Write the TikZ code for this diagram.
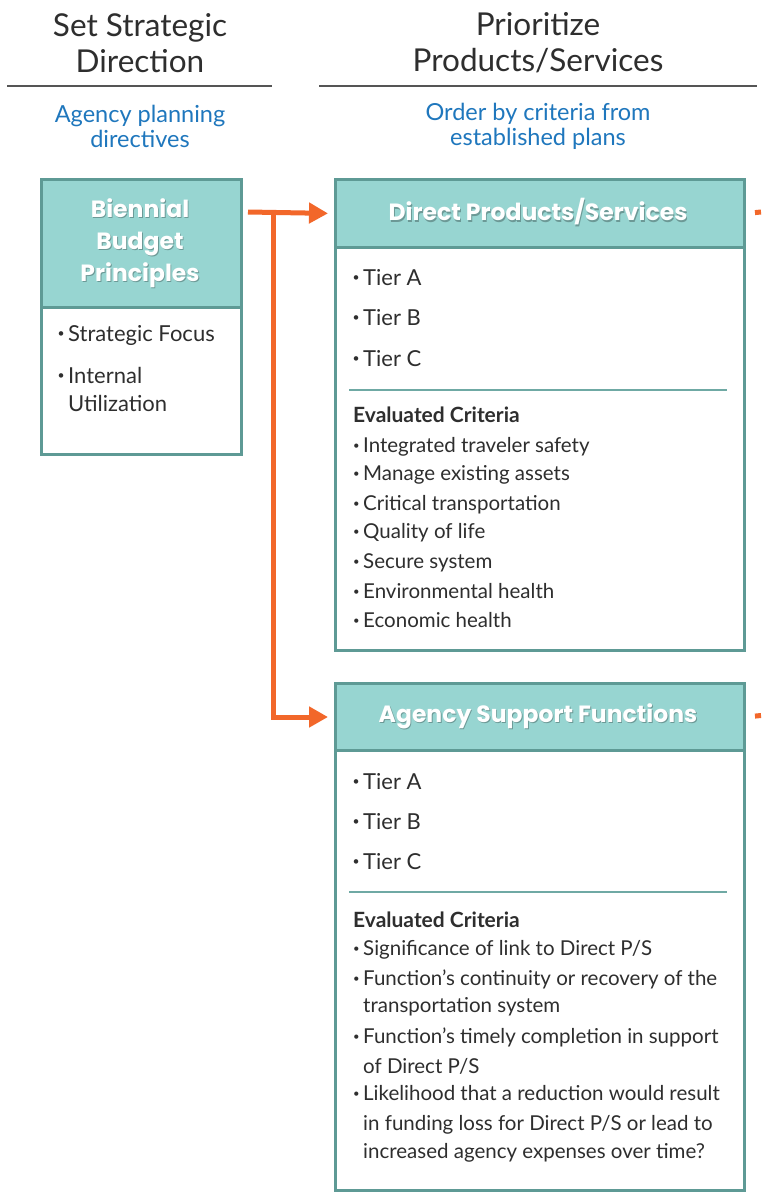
\documentclass[tikz,border=0pt]{standalone}
\usepackage{fontspec}
\setmainfont{Lato}
\newfontfamily\hdfont{Poppins}
\usetikzlibrary{arrows.meta}
\definecolor{hdfill}{HTML}{97D5D1}
\definecolor{bdr}{HTML}{5E9A95}
\definecolor{sepc}{HTML}{6FA9A4}
\definecolor{orng}{HTML}{F2672A}
\definecolor{blu}{HTML}{1F77BD}
\definecolor{txt}{HTML}{2E2E2E}
\definecolor{rulec}{HTML}{555555}
\newcommand\bul{\llap{\raisebox{0.28ex}{\scalebox{0.55}{•}}\hspace{3.5pt}}}
\tikzset{
 boxbody/.style={draw=bdr, line width=3pt, fill=white, anchor=north west, inner sep=0pt},
 boxhead/.style={draw=bdr, line width=3pt, fill=hdfill, anchor=north west, inner sep=0pt},
 coltitle/.style={font=\fontsize{31.5}{36}\selectfont, text=txt, align=center, inner sep=0pt},
 colsub/.style={font=\fontsize{23.5}{25}\selectfont, text=blu, align=center, inner sep=0pt},
 hd/.style={font=\hdfont\bfseries\fontsize{23.5}{32}\selectfont, text=white, align=center, inner sep=0pt},
 hdsh/.style={hd, text=black, opacity=0.28},
 item/.style={font=\fontsize{22}{26}\selectfont, text=txt, anchor=base west, inner sep=0pt},
 crit/.style={font=\fontsize{20.5}{24}\selectfont, text=txt, anchor=base west, inner sep=0pt},
 crithd/.style={crit, font=\bfseries\fontsize{21}{24}\selectfont},
 seprule/.style={draw=sepc, line width=1.5pt},
 colrule/.style={draw=rulec, line width=2pt},
 flow/.style={draw=orng, line width=5pt},
 flowarr/.style={flow, -{Triangle[length=19pt,width=20pt]}},
}
\begin{document}
\begin{tikzpicture}[x=1pt,y=-1pt]
\useasboundingbox[fill=white] (0,0) rectangle (761,1192);

% column headings
\node[coltitle] (t1) at (140,43) {Set Strategic\\Direction};
\node[coltitle] (t2) at (538,43) {Prioritize\\Products/Services};
\draw[colrule] (7,86) -- (272,86);
\draw[colrule] (319,86) -- (757,86);
\node[colsub] (s1) at (140,126) {Agency planning\\directives};
\node[colsub] (s2) at (538,126) {Order by criteria from\\established plans};

% box 1
\node[boxbody, minimum width=200pt, minimum height=275pt] (b1) at (40,178) {};
\node[boxhead, minimum width=200pt, minimum height=128pt] (b1h) at (40,178) {};
\node[hdsh] (b1ts) at (140.9,244.2) {Biennial\\Budget\\Principles};
\node[hd] (b1t) at (140,243) {Biennial\\Budget\\Principles};
\node[item] (b1i1) at (68,341) {\bul Strategic Focus};
\node[item] (b1i2) at (68,383) {\bul Internal};
\node[item] (b1i3) at (68,411) {Utilization};

% box 2
\node[boxbody, minimum width=409pt, minimum height=471pt] (b2) at (334,178) {};
\node[boxhead, minimum width=409pt, minimum height=68pt] (b2h) at (334,178) {};
\node[hdsh] (b2ts) at (538.9,213.2) {Direct Products/Services};
\node[hd] (b2t) at (538,212) {Direct Products/Services};
\foreach \yy/\tt [count=\i] in {285/{Tier A},325/{Tier B},366/{Tier C}}
  \node[item] (b2tier\i) at (363,\yy) {\bul \tt};
\draw[seprule] (349,390) -- (727,390);
\node[crithd] (b2ec) at (353,422) {Evaluated Criteria};
\foreach \yy/\tt [count=\i] in {452/{Integrated traveler safety},480/{Manage existing assets},510/{Critical transportation},538/{Quality of life},568/{Secure system},598/{Environmental health},627/{Economic health}}
  \node[crit] (b2c\i) at (363,\yy) {\bul \tt};

% box 3
\node[boxbody, minimum width=409pt, minimum height=507pt] (b3) at (334,682) {};
\node[boxhead, minimum width=409pt, minimum height=67pt] (b3h) at (334,682) {};
\node[hdsh] (b3ts) at (538.9,717.2) {Agency Support Functions};
\node[hd] (b3t) at (538,716) {Agency Support Functions};
\foreach \yy/\tt [count=\i] in {789/{Tier A},829/{Tier B},869/{Tier C}}
  \node[item] (b3tier\i) at (363,\yy) {\bul \tt};
\draw[seprule] (349,892) -- (727,892);
\node[crithd] (b3ec) at (353,927) {Evaluated Criteria};
\foreach \yy/\tt [count=\i] in {955/{\bul Significance of link to Direct P/S},985/{\bul Function’s continuity or recovery of the},1012/{transportation system},1043/{\bul Function’s timely completion in support},1073/{of Direct P/S},1100/{\bul Likelihood that a reduction would result},1130/{in funding loss for Direct P/S or lead to},1158/{increased agency expenses over time?}}
  \node[crit] (b3c\i) at (363,\yy) {\tt};

% connectors
\coordinate (src) at (248,212);
\coordinate (jn) at (273,212);
\draw[flowarr, shorten >=6pt] (src) -- (b2h.west);
\draw[flowarr, shorten >=6pt] (jn) |- (b3h.west);
\coordinate (out1) at (761,212);
\coordinate (out2) at (761,715.5);
\draw[flow, shorten <=9pt] (b2h.east) -- (out1);
\draw[flow, shorten <=9pt] (b3h.east) -- (out2);
\end{tikzpicture}
\end{document}
